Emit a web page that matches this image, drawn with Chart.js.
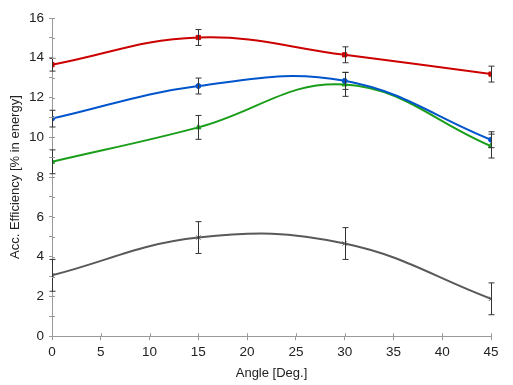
<!DOCTYPE html>
<html>
<head>
<meta charset="utf-8">
<script src="https://cdn.jsdelivr.net/npm/chart.js@4"></script>
<style>
  html, body { margin: 0; padding: 0; background: #fff; }
  #wrap { width: 513px; height: 385px; }
</style>
</head>
<body>
<div id="wrap"><canvas id="chart" width="513" height="385"></canvas></div>
<script>
/* =========================
   DATA
========================== */
const angles = [0, 15, 30, 45];

const redValues = [13.65, 15.02, 14.15, 13.18];
const redErrors = [0.32, 0.4, 0.4, 0.4];

const blueValues = [10.94, 12.58, 12.84, 9.88];
const blueErrors = [0.42, 0.4, 0.43, 0.4];

const greenValues = [8.77, 10.5, 12.66, 9.56];
const greenErrors = [0.6, 0.6, 0.6, 0.6];

const grayValues = [3.06, 4.96, 4.66, 1.88];
const grayErrors = [0.8, 0.8, 0.8, 0.8];

const xTicks = [0, 5, 10, 15, 20, 25, 30, 35, 40, 45];
const yTicks = [0, 2, 4, 6, 8, 10, 12, 14, 16];

const xTitle = "Angle [Deg.]";
const yTitle = "Acc. Efficiency [% in energy]";

/* =========================
   HELPERS
========================== */
function toPoints(values, errors) {
    return values.map((v, i) => ({ x: angles[i], y: v, err: errors[i] }));
}

function series(values, errors, color, style, radius) {
    return {
        data: toPoints(values, errors),
        borderColor: color,
        backgroundColor: color,
        borderWidth: 2,
        pointStyle: style,
        pointRadius: radius,
        pointBorderWidth: 1,
        tension: 0.4,
        fill: false
    };
}

/* =========================
   PLUGINS
========================== */
const errorBars = {
    id: "errorBars",
    afterDatasetsDraw(chart) {
        const { ctx, scales } = chart;
        ctx.save();
        ctx.strokeStyle = "#333";
        ctx.lineWidth = 1;
        chart.data.datasets.forEach(ds => {
            ds.data.forEach(p => {
                const x = Math.round(scales.x.getPixelForValue(p.x)) + 0.5;
                const top = scales.y.getPixelForValue(p.y + p.err);
                const bot = scales.y.getPixelForValue(p.y - p.err);
                ctx.beginPath();
                ctx.moveTo(x, top);
                ctx.lineTo(x, bot);
                ctx.moveTo(x - 3, top);
                ctx.lineTo(x + 3, top);
                ctx.moveTo(x - 3, bot);
                ctx.lineTo(x + 3, bot);
                ctx.stroke();
            });
        });
        ctx.restore();
    }
};

// ticks that also reach a little inside the plot
const innerTicks = {
    id: "innerTicks",
    afterDraw(chart) {
        const { ctx, scales } = chart;
        const area = chart.chartArea;
        ctx.save();
        ctx.strokeStyle = "#999";
        ctx.lineWidth = 1;
        ctx.beginPath();
        scales.x.ticks.forEach(t => {
            const x = Math.round(scales.x.getPixelForValue(t.value)) + 0.5;
            ctx.moveTo(x, area.bottom);
            ctx.lineTo(x, area.bottom - 3);
        });
        scales.y.ticks.forEach(t => {
            const y = Math.round(scales.y.getPixelForValue(t.value)) + 0.5;
            ctx.moveTo(area.left, y);
            ctx.lineTo(area.left + 3, y);
        });
        ctx.stroke();
        ctx.restore();
    }
};

/* =========================
   CHART
========================== */
Chart.defaults.font.family = "'Liberation Sans', Arial, sans-serif";
Chart.defaults.color = "#222";

new Chart(document.getElementById("chart").getContext("2d"), {
    type: "line",
    data: {
        datasets: [
            series(redValues, redErrors, "#cc0000", "rect", 3),
            series(blueValues, blueErrors, "#0055cc", "circle", 2.5),
            series(greenValues, greenErrors, "#1a9e1a", "triangle", 3),
            series(grayValues, grayErrors, "#595959", "crossRot", 3)
        ]
    },
    options: {
        responsive: false,
        animation: false,
        layout: { padding: { top: 18, right: 22, left: 4, bottom: 0 } },
        plugins: {
            legend: { display: false },
            tooltip: { enabled: false }
        },
        scales: {
            x: {
                type: "linear",
                min: 0,
                max: 45,
                afterBuildTicks: s => { s.ticks = xTicks.map(v => ({ value: v })); },
                ticks: { font: { size: 13.5 }, padding: 4, maxRotation: 0 },
                grid: {
                    drawOnChartArea: false,
                    drawTicks: true,
                    tickLength: 4,
                    color: "#999"
                },
                border: { color: "#999" },
                title: { display: true, text: xTitle, font: { size: 13 }, padding: { top: 1 } }
            },
            y: {
                min: 0,
                max: 16,
                ticks: {
                    stepSize: 1,
                    font: { size: 13.5 },
                    padding: 5,
                    callback: v => (yTicks.includes(v) ? v : "")
                },
                afterFit: s => { s.width = 48; },
                grid: {
                    drawOnChartArea: false,
                    drawTicks: true,
                    tickLength: 3,
                    color: "#999"
                },
                border: { color: "#999" },
                title: { display: true, text: yTitle, font: { size: 13 }, padding: { bottom: 4 } }
            }
        }
    },
    plugins: [errorBars, innerTicks]
});
</script>
</body>
</html>
